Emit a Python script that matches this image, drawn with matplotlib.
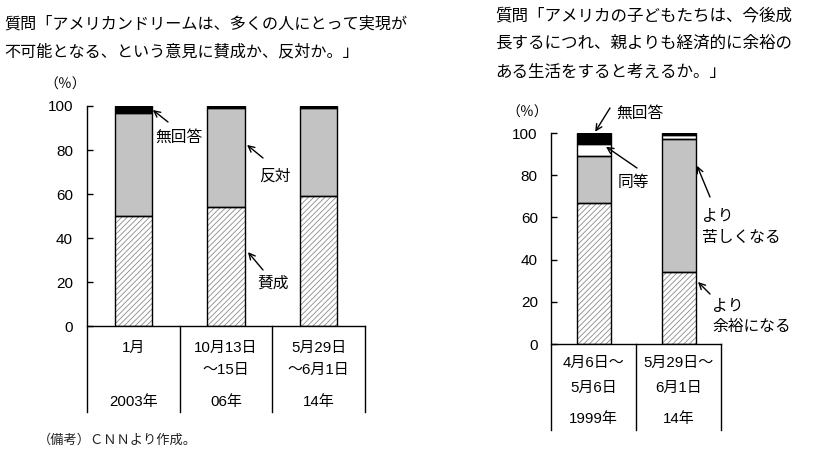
import matplotlib
matplotlib.use("Agg")
import matplotlib.pyplot as plt
import numpy as np

plt.rcParams['font.family'] = ['Liberation Sans', 'Noto Sans CJK JP', 'DejaVu Sans']
plt.rcParams['hatch.linewidth'] = 0.6

# ---------------- data ----------------
left_title = ["質問「アメリカンドリームは、多くの人にとって実現が",
              "不可能となる、という意見に賛成か、反対か。」"]
left_cats_line = [["1月", ""], ["10月13日", "～15日"], ["5月29日", "～6月1日"]]
left_years = ["2003年", "06年", "14年"]
left_agree = [50, 54, 59]
left_disagree = [47, 45, 40]
left_noans = [3, 1, 1]

right_title = ["質問「アメリカの子どもたちは、今後成",
               "長するにつれ、親よりも経済的に余裕の",
               "ある生活をすると考えるか。」"]
right_cats_line = [["4月6日～", "5月6日"], ["5月29日～", "6月1日"]]
right_years = ["1999年", "14年"]
right_better = [67, 34]
right_worse = [22, 63]
right_same = [6, 2]
right_noans = [5, 1]

yticks = [0, 20, 40, 60, 80, 100]

W, H = 830, 449
fig = plt.figure(figsize=(W / 100, H / 100), dpi=100)


def axrect(x0, x1, ytop, ybot):
    return [x0 / W, 1 - ybot / H, (x1 - x0) / W, (ybot - ytop) / H]


HATCH_GRAY = '#8a8a8a'
FILL_GRAY = '#c3c3c3'
BW = 0.40


def stacked(ax, layers):
    n = len(layers[0][0])
    x = np.arange(n)
    bottom = np.zeros(n)
    for vals, style in layers:
        vals = np.array(vals, dtype=float)
        if style == 'hatch':
            ax.bar(x, vals, BW, bottom=bottom, color='white', edgecolor=HATCH_GRAY,
                   hatch='//////', linewidth=0, zorder=2)
        else:
            ax.bar(x, vals, BW, bottom=bottom, color=style, linewidth=0, zorder=2)
        ax.bar(x, vals, BW, bottom=bottom, fill=False, edgecolor='black',
               linewidth=1.0, zorder=3)
        bottom += vals


def setup_axis(ax, n, table_bottom, pad):
    ax.set_xlim(-0.5, n - 0.5)
    ax.set_ylim(0, 100)
    ax.set_xticks([])
    ax.set_yticks(yticks)
    ax.tick_params(axis='y', direction='in', length=4, width=1, pad=pad, labelsize=11)
    for s in ['top', 'right', 'bottom', 'left']:
        ax.spines[s].set_visible(False)
    t = ax.transAxes
    # table lines
    ax.plot([0, 0], [1, table_bottom], color='black', lw=1, transform=t, clip_on=False)
    ax.plot([0, 1], [0, 0], color='black', lw=1, transform=t, clip_on=False)
    for i in range(1, n + 1):
        ax.plot([i / n, i / n], [0, table_bottom], color='black', lw=1,
                transform=t, clip_on=False)


def arrow(ax, tip, tail_px):
    ax.annotate('', xy=tip, xycoords='data',
                xytext=(tail_px[0], H - tail_px[1]), textcoords='figure pixels',
                arrowprops=dict(arrowstyle='->', lw=1, color='black',
                                shrinkA=0, shrinkB=0, mutation_scale=11),
                annotation_clip=False)


def ftext(x, y, s, **kw):
    fig.text(x / W, 1 - y / H, s, **kw)


# ---------------- left chart ----------------
axL = fig.add_axes(axrect(87, 365, 106, 326))
stacked(axL, [(left_agree, 'hatch'), (left_disagree, FILL_GRAY), (left_noans, 'black')])
setup_axis(axL, 3, (326 - 412) / 220, 10)
trL = axL.get_xaxis_transform()
for i, (l1, l2) in enumerate(left_cats_line):
    axL.text(i, (326 - 348) / 220, l1, transform=trL, ha='center', va='center', fontsize=10.8)
    if l2:
        axL.text(i, (326 - 370) / 220, l2, transform=trL, ha='center', va='center', fontsize=10.8)
    axL.text(i, (326 - 402) / 220, left_years[i], transform=trL, ha='center', va='center', fontsize=10.8)

arrow(axL, (0.21, 98.2), (168, 122))
arrow(axL, (1.227, 82.3), (263, 158))
arrow(axL, (1.237, 33.6), (263, 270))
ftext(179, 137, "無回答", ha='center', va='center', fontsize=11.3)
ftext(275, 176, "反対", ha='center', va='center', fontsize=11.3)
ftext(273, 283, "賛成", ha='center', va='center', fontsize=11.3)
ftext(65, 85, "（％）", ha='center', va='center', fontsize=10)

for k, line in enumerate(left_title):
    ftext(4, 24 + 28 * k, line, ha='left', va='center', fontsize=11.6)

ftext(38, 440, "（備考）ＣＮＮより作成。", ha='left', va='center', fontsize=9.5, color='#222222')

# ---------------- right chart ----------------
axR = fig.add_axes(axrect(551, 721, 133, 344))
stacked(axR, [(right_better, 'hatch'), (right_worse, FILL_GRAY),
              (right_same, 'white'), (right_noans, 'black')])
setup_axis(axR, 2, (344 - 430) / 211, 9.5)
trR = axR.get_xaxis_transform()
for i, (l1, l2) in enumerate(right_cats_line):
    axR.text(i, (344 - 363) / 211, l1, transform=trR, ha='center', va='center', fontsize=10.8)
    axR.text(i, (344 - 388) / 211, l2, transform=trR, ha='center', va='center', fontsize=10.8)
    axR.text(i, (344 - 419) / 211, right_years[i], transform=trR, ha='center', va='center', fontsize=10.8)

arrow(axR, (0.02, 100.6), (610, 108))
arrow(axR, (0.147, 93.5), (637, 168))
arrow(axR, (1.218, 84.5), (710, 197))
arrow(axR, (1.229, 29.4), (710, 294))
ftext(640, 113, "無回答", ha='center', va='center', fontsize=11.3)
ftext(633, 183, "同等", ha='center', va='center', fontsize=11.3)
ftext(702, 216, "より", ha='left', va='center', fontsize=11.3)
ftext(702, 237, "苦しくなる", ha='left', va='center', fontsize=11.3)
ftext(712, 307, "より", ha='left', va='center', fontsize=11.3)
ftext(712, 326, "余裕になる", ha='left', va='center', fontsize=11.3)
ftext(527, 113, "（％）", ha='center', va='center', fontsize=10)

for k, line in enumerate(right_title):
    ftext(495, 15 + 28.5 * k, line, ha='left', va='center', fontsize=11.9)

fig.savefig("out.png", dpi=100)
